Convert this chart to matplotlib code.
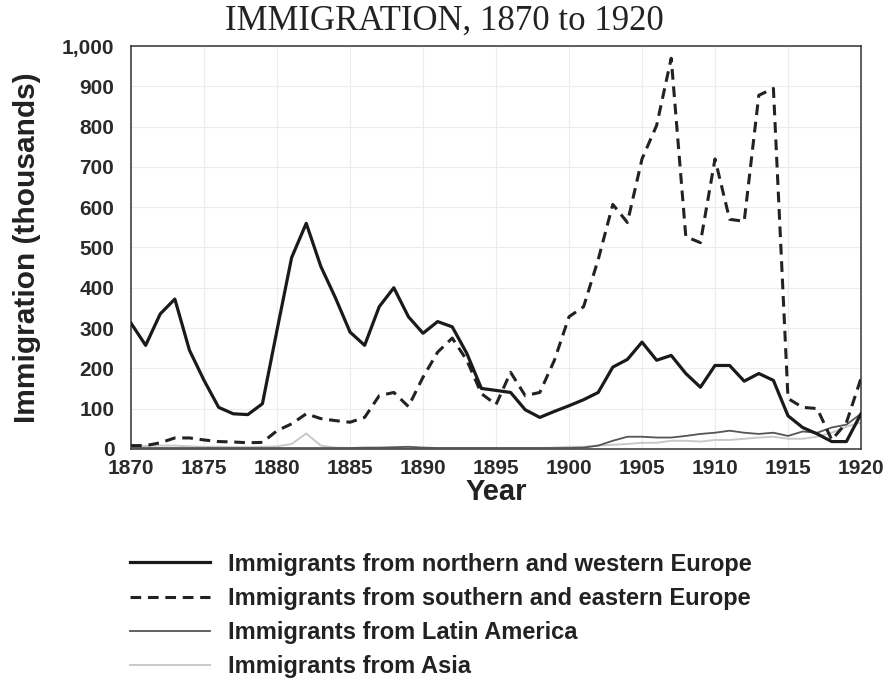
import matplotlib
matplotlib.use("Agg")
import matplotlib.pyplot as plt
import numpy as np

years = list(range(1870, 1921))

north_west = [312, 257, 335, 372, 245, 170, 103, 87, 85, 112,
              295, 475, 560, 453, 375, 290, 257, 353, 400, 328,
              287, 316, 303, 237, 150, 145, 140, 97, 78, 93,
              107, 122, 140, 203, 222, 265, 220, 232, 187, 153,
              207, 207, 168, 187, 170, 82, 53, 37, 18, 18,
              87]

south_east = [8, 8, 15, 27, 27, 22, 18, 17, 15, 16,
              45, 62, 87, 75, 70, 66, 78, 132, 140, 105,
              178, 240, 275, 220, 137, 110, 190, 132, 140, 220,
              328, 353, 470, 607, 562, 720, 803, 970, 527, 512,
              720, 570, 565, 878, 895, 125, 103, 100, 22, 65,
              175]

latin_america = [2, 2, 2, 2, 2, 2, 2, 2, 2, 2,
                 2, 2, 2, 2, 2, 2, 3, 3, 4, 5,
                 3, 2, 2, 2, 2, 2, 2, 2, 2, 2,
                 2, 3, 8, 20, 30, 30, 28, 28, 32, 37,
                 40, 45, 40, 37, 40, 32, 43, 40, 53, 60,
                 87]

asia = [5, 7, 8, 8, 6, 5, 5, 4, 4, 5,
        6, 12, 38, 8, 3, 2, 2, 2, 2, 2,
        2, 2, 2, 2, 2, 2, 2, 2, 2, 3,
        5, 5, 8, 10, 12, 15, 15, 20, 20, 18,
        22, 22, 25, 28, 30, 25, 25, 30, 40, 55,
        65]

series_labels = ["Immigrants from northern and western Europe",
                 "Immigrants from southern and eastern Europe",
                 "Immigrants from Latin America",
                 "Immigrants from Asia"]

x_ticks = list(range(1870, 1921, 5))
y_ticks = list(range(0, 1001, 100))
y_tick_labels = ["0", "100", "200", "300", "400", "500", "600", "700", "800", "900", "1,000"]

fig = plt.figure(figsize=(8.89, 6.79), dpi=100)
ax = fig.add_axes([0.1474, 0.339, 0.8211, 0.593])

ax.plot(years, asia, color="#c8c8c8", lw=1.4, label=series_labels[3], zorder=2)
ax.plot(years, latin_america, color="#555555", lw=1.3, label=series_labels[2], zorder=3)
ax.plot(years, south_east, color="#222222", lw=2.2, ls=(0, (3.5, 2.2)), label=series_labels[1], zorder=4)
ax.plot(years, north_west, color="#1a1a1a", lw=2.3, label=series_labels[0], zorder=5)

ax.set_xlim(1870, 1920)
ax.set_ylim(0, 1000)
ax.set_xticks(x_ticks)
ax.set_yticks(y_ticks)
ax.set_yticklabels(y_tick_labels)
ax.grid(True, color="#ececec", lw=0.8)
ax.set_axisbelow(True)
ax.tick_params(axis="y", length=0, pad=12, labelsize=15)
ax.tick_params(axis="x", length=0, pad=7, labelsize=15)
for lab in ax.get_xticklabels() + ax.get_yticklabels():
    lab.set_fontweight("bold")
    lab.set_fontfamily("Liberation Sans")
    lab.set_color("#2a2a2a")
for sp in ax.spines.values():
    sp.set_color("#333333")
    sp.set_linewidth(1.1)

ax.set_xlabel("Year", fontsize=21, fontweight="bold", family="Liberation Sans", color="#222222", labelpad=0)
ax.set_ylabel("Immigration (thousands)", fontsize=21.5, fontweight="bold", family="Liberation Sans", color="#222222")
ax.yaxis.set_label_coords(-0.124, 0.5)

fig.text(0.5, 0.968, "IMMIGRATION, 1870 to 1920", ha="center", va="center",
         fontsize=25, family="Liberation Serif", color="#222222")

handles, labels = ax.get_legend_handles_labels()
order = [3, 2, 1, 0]
leg = fig.legend([handles[i] for i in order], [labels[i] for i in order],
                 loc="upper left", bbox_to_anchor=(0.146, 0.186), frameon=False,
                 borderpad=0, borderaxespad=0,
                 handlelength=3.4, handletextpad=0.75, labelspacing=0.47,
                 prop={"family": "Liberation Sans", "weight": "bold", "size": 17})
for t in leg.get_texts():
    t.set_color("#222222")

fig.savefig("out.png", dpi=100)
